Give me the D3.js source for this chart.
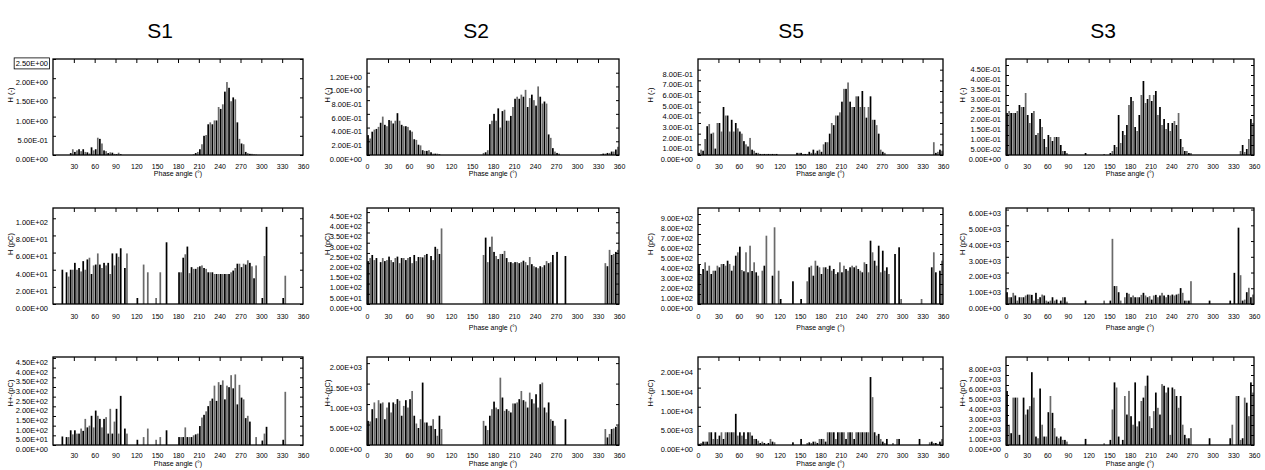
<!DOCTYPE html>
<html>
<head>
<meta charset="utf-8">
<script src="https://cdn.jsdelivr.net/npm/d3@7"></script>
<style>
body { margin: 0; background: #fff; }
svg { display: block; }
text { font-family: "Liberation Sans", Arial, sans-serif; }
</style>
</head>
<body>
<div id="chart"></div>
<script>
'use strict';

// station names (column titles) and y-axis titles (one per row)
var stations = ['S1', 'S2', 'S5', 'S3'];
var yTitles = ['H (-)', 'H (pC)', 'H+-(pC)'];

// phase bins of 3 degrees, 0..360
var binWidth = 3;
var xTickValues = [0, 30, 60, 90, 120, 150, 180, 210, 240, 270, 300, 330, 360];

// row 1 : H (-)
var hS1 = [
    0,0,0,0,0,0,0,0,.05,.15,.08,.12,
    .15,.1,.15,.08,.07,.04,.2,.12,.15,.45,.42,.3,
    .12,.1,.05,.07,.06,.03,.02,.06,.02,0,0,0,
    0,0,0,0,0,0,0,0,0,0,0,0,
    0,0,0,0,0,0,0,0,0,0,0,0,
    0,0,0,0,0,0,0,.02,.05,.08,.15,.28,
    .5,.52,.8,.85,.8,.9,.9,1.25,1.2,1.32,1.65,1.9,
    1.75,1.4,1.5,1.45,.85,.42,.3,.28,.08,.05,.03,.03,
    .01,.01,0,0,0,0,0,0,0,0,0,0,
    0,0,0,0,0,0,0,0,0,0,0,0
];
var hS2 = [
    .29,.24,.34,.37,.38,.41,.47,.56,.44,.42,.51,.5,
    .46,.5,.61,.5,.44,.42,.42,.41,.36,.34,.23,.22,
    .15,.14,.07,.06,.06,.07,.04,.02,.02,.02,.01,0,
    0,0,0,0,0,0,0,0,0,0,0,0,
    0,0,0,0,0,0,0,.03,.04,.07,.45,.5,
    .6,.5,.68,.4,.64,.66,.5,.5,.57,.7,.82,.85,
    .82,.88,.85,.95,.7,.83,.88,.8,.72,1.0,.85,.75,
    .78,.75,.3,.25,.1,.05,.03,.02,0,0,0,0,
    0,0,0,0,0,0,0,0,0,0,0,0,
    0,0,0,.01,.02,.02,.03,.03,.05,.05,.08,.12
];
var hS5 = [
    .02,.05,.04,.15,.27,.29,.2,.21,.06,.3,.3,.22,
    .45,.37,.37,.22,.33,.22,.3,.25,.22,.2,.13,.1,
    .08,.16,.05,.04,.02,.02,.01,.01,.01,.01,.01,.01,
    .01,.01,.01,0,0,0,0,0,0,0,0,0,
    .02,.02,.02,.01,.01,.01,.03,.02,.05,.02,.04,.05,
    .03,.1,.12,.12,.2,.3,.28,.37,.37,.4,.5,.62,
    .62,.68,.5,.45,.45,.55,.55,.45,.6,.45,.35,.45,
    .55,.33,.33,.28,.2,.05,.03,.02,0,0,0,0,
    0,0,0,0,0,0,0,0,0,0,0,0,
    0,0,0,0,0,0,0,.12,.02,.03,.05,.04
];
var hS3 = [
    .21,.22,.21,.21,.21,.22,.25,.24,.24,.31,.2,.16,
    .21,.22,.1,.11,.18,.14,.08,.04,.1,.09,.07,.09,
    .09,.09,.05,.02,.02,.01,0,0,0,0,0,0,
    0,0,.01,0,0,0,0,0,0,0,0,.005,
    0,0,.01,.02,.05,.04,.2,.06,.12,.1,.15,.25,
    .29,.27,.14,.12,.2,.3,.37,.26,.28,.3,.27,.3,
    .32,.2,.24,.15,.18,.13,.16,.12,.16,.17,.15,.21,
    .08,.04,.02,.02,.01,.01,0,0,0,0,0,0,
    0,0,0,0,0,0,0,0,0,0,0,0,
    0,0,0,0,0,.02,.05,.015,.03,.08,.18,.16
];

// row 2 : H (pC)
var qS1 = [
    0,0,0,0,40,0,37,32,40,40,48,40,
    42,38,50,40,52,54,35,45,46,59,46,42,
    48,45,48,35,59,45,59,55,65,0,42,59,
    0,0,0,0,7,0,0,46,0,37,0,0,
    0,7,0,37,0,0,72,0,0,0,0,0,
    37,37,54,58,67,36,43,41,41,43,44,45,
    42,41,37,37,37,35,35,35,35,35,35,35,
    35,37,39,42,47,47,43,47,46,51,48,44,
    30,45,0,0,7,56,90,0,0,0,0,0,
    0,0,7,33,0,0,0,0,0,0,0,0
];
var qS2 = [
    210,225,240,215,225,0,205,225,210,215,232,215,
    205,225,232,200,225,225,215,225,230,200,240,210,
    230,230,228,240,245,0,235,215,280,270,245,370,
    0,0,0,0,0,0,0,0,0,0,0,0,
    0,0,0,0,0,0,0,240,325,205,280,330,
    255,235,220,245,245,260,225,205,205,200,205,205,
    200,205,212,205,190,230,195,185,180,175,185,180,
    190,210,200,205,240,0,255,0,0,0,235,0,
    0,0,0,0,0,0,0,0,0,0,0,0,
    0,0,0,0,0,200,185,265,240,245,255,265
];
var qS5 = [
    400,300,350,417,333,383,300,333,333,383,367,400,
    400,383,433,400,333,383,483,517,573,340,327,517,
    317,583,330,417,317,283,0,333,383,683,0,0,
    283,767,0,333,50,0,0,0,0,0,227,0,
    0,0,50,0,0,227,367,383,283,433,383,367,
    300,367,367,350,383,333,350,300,317,417,317,383,
    350,333,367,383,367,383,350,333,317,417,400,317,
    633,517,433,383,583,317,533,333,367,300,0,0,
    500,0,567,50,0,0,0,0,0,0,0,0,
    0,50,0,0,0,0,367,517,317,0,333,433
];
var qS3 = [
    750,430,430,710,540,215,430,430,430,540,600,600,
    580,215,710,320,430,600,540,215,150,215,430,215,
    280,0,215,430,430,150,0,0,0,0,0,0,
    0,0,215,0,0,0,0,0,0,0,0,215,
    0,0,215,4140,1140,1140,750,215,0,430,710,650,
    430,540,430,430,430,580,710,540,430,500,280,540,
    580,430,540,710,540,430,580,540,600,540,600,650,
    1010,710,215,215,215,1450,0,0,0,0,0,0,
    0,0,215,0,0,0,0,0,0,0,0,0,
    215,0,1980,0,4850,1830,215,280,750,1030,430,600
];

// row 3 : H+- (pC)
var qpmS1 = [
    0,0,0,0,44,0,41,41,76,55,76,59,
    59,85,73,135,91,100,151,91,178,151,135,91,
    135,144,59,187,59,121,187,59,254,0,85,59,
    0,0,0,0,27,0,0,41,0,85,0,0,
    0,27,0,41,0,0,76,0,0,0,0,0,
    41,41,41,91,41,41,41,50,55,59,98,142,
    156,174,201,228,240,307,228,325,311,334,236,307,
    299,361,293,365,210,311,245,236,139,151,121,0,
    0,41,0,0,23,59,94,0,0,0,0,0,
    0,0,27,275,0,0,0,0,0,0,0,0
];
var qpmS2 = [
    590,575,875,1040,655,1095,1015,1040,630,915,1040,795,
    1040,1000,1120,1080,715,955,1095,915,1120,1320,715,525,
    415,630,1525,550,550,470,470,630,390,225,715,390,
    0,0,0,0,0,0,0,0,0,0,0,0,
    0,0,0,0,0,0,0,590,470,365,715,875,
    1060,915,875,1645,1160,835,875,835,795,1015,1015,1040,
    1120,1320,1095,1060,915,1280,1120,1015,1240,915,1485,1525,
    915,795,1040,630,590,470,0,0,0,0,630,0,
    0,0,0,0,0,0,0,0,0,0,0,0,
    0,0,0,0,0,390,185,270,390,405,445,470
];
var qpmS5 = [
    300,525,875,875,875,3325,3325,1575,3325,1575,2450,3325,
    1575,3325,3325,3325,3325,3325,8140,2450,3325,2450,3325,1575,
    3325,3325,2450,1575,1575,1140,525,875,525,300,525,1575,
    875,700,0,0,0,0,0,0,0,0,700,0,
    0,0,1575,0,0,525,700,525,875,875,525,1575,
    1575,1575,875,3325,3325,3325,3325,1575,3325,3325,3325,3325,
    1575,3325,3325,3325,1575,3325,3325,3325,3325,3325,3325,3325,
    17760,12510,3325,2450,2900,1575,875,525,1575,0,0,525,
    0,1575,1575,0,0,0,0,0,0,0,0,0,
    1575,0,0,0,0,700,875,525,525,300,875,1575
];
var qpmS3 = [
    5400,2030,1180,4740,4740,4740,1015,0,4740,3045,3550,3890,
    7280,4740,845,675,5650,2030,845,845,3280,4900,3215,1690,
    845,675,845,510,510,340,0,0,0,0,0,0,
    0,0,610,0,0,0,0,0,0,0,0,170,
    0,0,510,3550,6260,5750,845,0,510,4900,3045,5410,
    2880,2030,6260,1860,2370,4400,4740,5920,6940,2880,1690,3385,
    5245,3720,3045,6090,5920,5245,5750,1015,5750,5580,4900,3720,
    4900,2030,1015,675,675,1690,0,0,0,0,0,0,
    0,0,675,0,0,0,0,0,0,0,0,0,
    675,2030,0,4900,4900,510,675,4740,4230,2880,6260,5245
];

var series = [
    [hS1, hS2, hS5, hS3],
    [qS1, qS2, qS5, qS3],
    [qpmS1, qpmS2, qpmS5, qpmS3]
];

// y tick labels per panel
var yTickValues = [
    [[0, .5, 1, 1.5, 2, 2.5], [0, .2, .4, .6, .8, 1, 1.2],
     [0, .1, .2, .3, .4, .5, .6, .7, .8], [0, .05, .1, .15, .2, .25, .3, .35, .4, .45]],
    [[0, 20, 40, 60, 80, 100], [0, 50, 100, 150, 200, 250, 300, 350, 400, 450],
     [0, 100, 200, 300, 400, 500, 600, 700, 800, 900], [0, 1000, 2000, 3000, 4000, 5000, 6000]],
    [[0, 50, 100, 150, 200, 250, 300, 350, 400, 450], [0, 500, 1000, 1500, 2000],
     [0, 5000, 10000, 15000, 20000], [0, 1000, 2000, 3000, 4000, 5000, 6000, 7000, 8000]]
];
var yMax = [
    [2.5, 1.4, 0.9, 0.48],
    [112, 470, 960, 6100],
    [455, 2150, 23000, 8800]
];

// layout
var width = 1265, height = 470;
var colX = [[53, 303], [367, 619], [698, 943], [1006, 1254]];
var rowY = [[59, 155], [208, 304], [357, 445]];
var xTitleDy = [21, 26, 21];
var xLabelPad = [9, 10, 8];
var titleX = [160, 476, 791, 1103];
var yTitleX = [10, 327, 650, 962];

function sci(v) {
    var s = (+v).toExponential(2).toUpperCase();
    return s.replace(/E([+-])(\d)$/, 'E$10$2');
}

var svg = d3.select('#chart').append('svg')
    .attr('width', width)
    .attr('height', height);

svg.selectAll('text.station')
    .data(stations)
  .enter().append('text')
    .attr('class', 'station')
    .attr('x', function(d, i) { return titleX[i]; })
    .attr('y', 38)
    .attr('text-anchor', 'middle')
    .style('font-size', '21px')
    .text(function(d) { return d; });

series.forEach(function(rowSeries, r) {
    rowSeries.forEach(function(values, c) {
        var x0 = colX[c][0], x1 = colX[c][1];
        var y0 = rowY[r][0], y1 = rowY[r][1];
        var x = d3.scaleLinear().domain([0, 360]).range([x0, x1]);
        var y = d3.scaleLinear().domain([0, yMax[r][c]]).range([y1, y0]);
        var g = svg.append('g');

        // bars
        g.selectAll('rect.bar')
            .data(values)
          .enter().append('rect')
            .attr('class', 'bar')
            .attr('x', function(d, i) { return x(i * binWidth + binWidth / 2) - 0.85; })
            .attr('width', 1.7)
            .attr('y', function(d) { return y(d); })
            .attr('height', function(d) { return y1 - y(d); })
            .style('fill', function(d, i) { return i % 2 ? '#6a6a6a' : '#000'; });

        // frame
        g.append('rect')
            .attr('x', x0).attr('y', y0)
            .attr('width', x1 - x0).attr('height', y1 - y0)
            .style('fill', 'none')
            .style('stroke', '#000')
            .style('stroke-width', 1.3);

        // inward ticks on top edge
        var top = g.append('g')
            .attr('transform', 'translate(0,' + y0 + ')')
            .call(d3.axisTop(x).tickValues(d3.range(30, 360, 30)).tickSize(-4).tickFormat(''));
        top.select('.domain').remove();

        // left axis with labels
        var left = g.append('g')
            .attr('transform', 'translate(' + x0 + ',0)')
            .call(d3.axisLeft(y).tickValues(yTickValues[r][c]).tickSize(-3).tickPadding(5).tickFormat(sci));
        left.select('.domain').remove();
        left.selectAll('text')
            .attr('transform', 'translate(0,4)')
            .style('font-size', '7.5px')
            .style('fill', '#000');

        // right edge ticks
        var right = g.append('g')
            .attr('transform', 'translate(' + x1 + ',0)')
            .call(d3.axisRight(y).tickValues(yTickValues[r][c]).tickSize(-3).tickFormat(''));
        right.select('.domain').remove();

        // bottom labels
        var bottom = g.append('g')
            .attr('transform', 'translate(0,' + y1 + ')')
            .call(d3.axisBottom(x)
                .tickValues(c === 0 ? xTickValues.slice(1) : xTickValues)
                .tickSize(0).tickPadding(xLabelPad[r]));
        bottom.select('.domain').remove();
        bottom.selectAll('text')
            .style('font-size', '7px')
            .style('fill', '#000');

        if (!(r === 1 && c === 0)) {
            g.append('text')
                .attr('x', (x0 + x1) / 2)
                .attr('y', y1 + xTitleDy[r])
                .attr('text-anchor', 'middle')
                .style('font-size', '7px')
                .text('Phase angle (\u00b0)');
        }

        g.append('text')
            .attr('transform', 'translate(' + yTitleX[c] + ',' + (y0 + 36) + ') rotate(-90)')
            .attr('text-anchor', 'middle')
            .attr('dy', '0.35em')
            .style('font-size', '7.5px')
            .text(yTitles[r]);

        // boxed top label in the first panel
        if (r === 0 && c === 0) {
            var lab = left.selectAll('text').filter(function(d) { return d === 2.5; }).node();
            var bb = lab.getBBox();
            var tr = lab.parentNode.getAttribute('transform').match(/,([\d.]+)/);
            var ty = +tr[1] + 4;
            g.append('rect')
                .attr('x', x0 + bb.x - 1.5)
                .attr('y', ty + bb.y - 1)
                .attr('width', bb.width + 3)
                .attr('height', bb.height + 2)
                .style('fill', 'none')
                .style('stroke', '#000')
                .style('stroke-width', 0.8);
        }
    });
});
</script>
</body>
</html>
